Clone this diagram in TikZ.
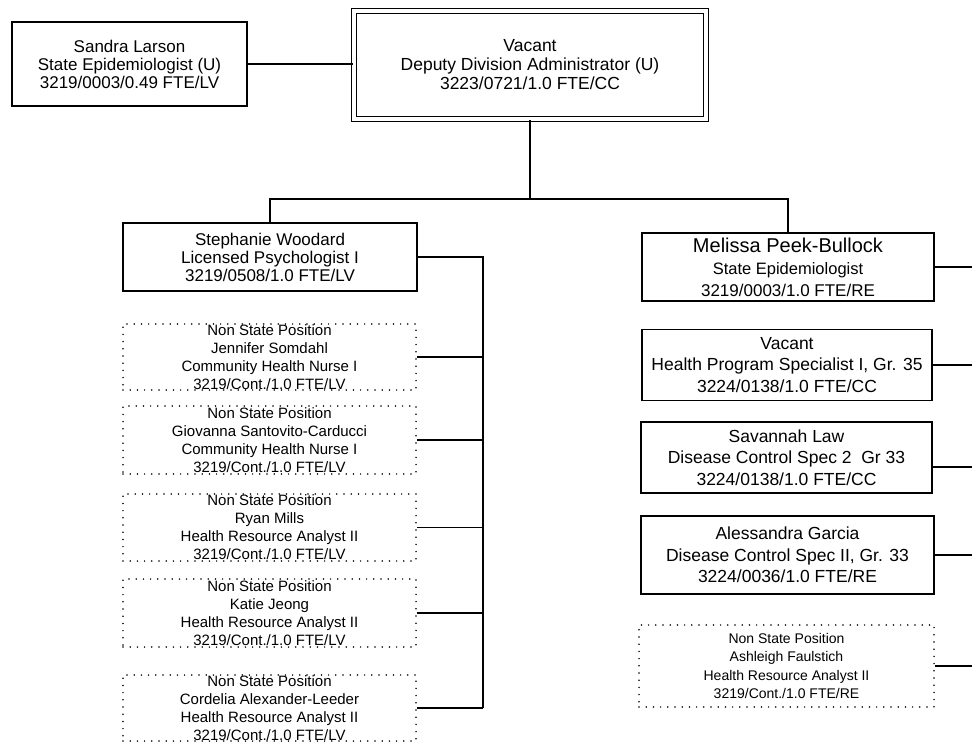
\documentclass[tikz,border=0pt]{standalone}
\usepackage{fontspec}
\setmainfont{Liberation Sans}
\begin{document}
\begin{tikzpicture}[x=1pt,y=-1pt,
  box/.style={draw, line width=1.2pt, inner sep=0pt, align=center, font=\fontsize{17}{18}\selectfont},
  rbox/.style={box, font=\fontsize{17.5}{21.5}\selectfont},
  nsbox/.style={draw, line width=1.7pt, dash pattern=on 0pt off 7.2pt, line cap=round, inner sep=0pt, align=center, font=\fontsize{15}{18}\selectfont},
  conn/.style={line width=1.5pt}]
\fill[white] (0,0) rectangle (972,751);
\useasboundingbox (0,0) rectangle (972,751);

% top row
\node[box, minimum width=235pt, minimum height=84pt] (sandra) at (129.5,64)
  {Sandra Larson\\State Epidemiologist (U)\\3219/0003/0.49 FTE/LV};
\node[box, double, double distance=3.5pt, minimum width=352pt, minimum height=108pt,
  font=\fontsize{17.5}{19}\selectfont] (vacant) at (530,65)
  {Vacant\\Deputy Division Administrator (U)\\3223/0721/1.0 FTE/CC};

% left branch
\node[box, minimum width=294pt, minimum height=68pt] (stephanie) at (270,257)
  {Stephanie Woodard\\Licensed Psychologist I\\3219/0508/1.0 FTE/LV};
\node[nsbox, minimum width=293pt, minimum height=66pt] (ns1) at (269.5,357)
  {Non State Position\\Jennifer Somdahl\\Community Health Nurse I\\3219/Cont./1.0 FTE/LV};
\node[nsbox, minimum width=293pt, minimum height=68pt] (ns2) at (269.5,440)
  {Non State Position\\Giovanna Santovito-Carducci\\Community Health Nurse I\\3219/Cont./1.0 FTE/LV};
\node[nsbox, minimum width=293pt, minimum height=67pt] (ns3) at (269.5,527.5)
  {Non State Position\\Ryan Mills\\Health Resource Analyst II\\3219/Cont./1.0 FTE/LV};
\node[nsbox, minimum width=293pt, minimum height=68pt] (ns4) at (269.5,613)
  {Non State Position\\Katie Jeong\\Health Resource Analyst II\\3219/Cont./1.0 FTE/LV};
\node[nsbox, minimum width=293pt, minimum height=66pt] (ns5) at (269.5,708)
  {Non State Position\\Cordelia Alexander-Leeder\\Health Resource Analyst II\\3219/Cont./1.0 FTE/LV};

% right branch
\node[box, minimum width=292pt, minimum height=68pt, font=\fontsize{17}{22}\selectfont] (melissa) at (788,267)
  {{\fontsize{20}{22}\selectfont Melissa Peek-Bullock}\\{\fontsize{16.5}{22}\selectfont State Epidemiologist}\\3219/0003/1.0 FTE/RE};
\node[rbox, minimum width=290pt, minimum height=71pt] (hps) at (787,365)
  {Vacant\\Health Program Specialist I, Gr. 35\\3224/0138/1.0 FTE/CC};
\node[rbox, minimum width=291pt, minimum height=71pt] (savannah) at (786.5,457.5)
  {Savannah Law\\Disease Control Spec 2\ \ Gr 33\\3224/0138/1.0 FTE/CC};
\node[rbox, minimum width=293pt, minimum height=78pt] (alessandra) at (787.5,555)
  {Alessandra Garcia\\Disease Control Spec II, Gr. 33\\3224/0036/1.0 FTE/RE};
\node[nsbox, minimum width=295pt, minimum height=82pt, font=\fontsize{14}{18.5}\selectfont] (ashleigh) at (786.5,666)
  {Non State Position\\Ashleigh Faulstich\\Health Resource Analyst II\\3219/Cont./1.0 FTE/RE};

% connectors
\coordinate (bus) at (530,199);
\coordinate (ltrunk) at (483,257);
\coordinate (redge) at (972,0);
\coordinate (c3) at (972,467);

\draw[conn] (sandra.east) -- (sandra.east -| vacant.west);
\draw[conn] (vacant.south) -- (bus);
\draw[conn] (stephanie.north) -- (stephanie.north |- bus) -- (melissa.north |- bus) -- (melissa.north);

\draw[conn] (stephanie.east) -- (ltrunk) -- (ltrunk |- ns5.east);
\foreach \n in {ns1,ns2,ns3,ns4,ns5}
  \draw[conn] (\n.east) -- (\n.east -| ltrunk);

\foreach \n in {melissa,hps,alessandra,ashleigh}
  \draw[conn] (\n.east) -- (\n.east -| redge);
\draw[conn] (c3 -| savannah.east) -- (c3);
\end{tikzpicture}
\end{document}
